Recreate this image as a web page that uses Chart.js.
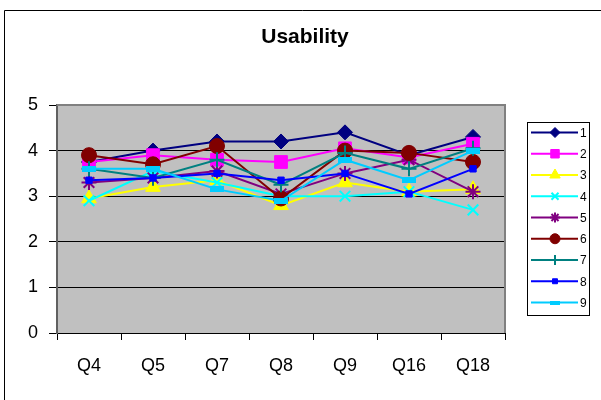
<!DOCTYPE html>
<html>
<head>
<meta charset="utf-8">
<script src="https://cdn.jsdelivr.net/npm/chart.js@4/dist/chart.umd.min.js"></script>
<style>
    html, body { margin: 0; padding: 0; background: #ffffff; }
    #wrap { width: 601px; height: 400px; }
</style>
</head>
<body>
<div id="wrap"><canvas id="usabilityChart" width="601" height="400"></canvas></div>
<script>
const questions = ['Q4', 'Q5', 'Q7', 'Q8', 'Q9', 'Q16', 'Q18']
const seriesNames = ['1', '2', '3', '4', '5', '6', '7', '8', '9']

const series1 = [3.75, 4.0, 4.2, 4.2, 4.4, 3.9, 4.3]
const series2 = [3.75, 3.9, 3.8, 3.75, 4.05, 3.85, 4.15]
const series3 = [2.95, 3.2, 3.35, 2.8, 3.3, 3.1, 3.15]
const series4 = [2.9, 3.55, 3.3, 3.0, 3.0, 3.1, 2.7]
const series5 = [3.3, 3.4, 3.55, 3.05, 3.5, 3.8, 3.1]
const series6 = [3.9, 3.7, 4.1, 2.95, 4.0, 3.95, 3.75]
const series7 = [3.6, 3.4, 3.8, 3.25, 3.95, 3.6, 4.05]
const series8 = [3.35, 3.4, 3.5, 3.35, 3.5, 3.05, 3.6]
const series9 = [3.6, 3.6, 3.15, 2.9, 3.8, 3.35, 4.0]

const yTickValues = [0, 1, 2, 3, 4, 5]

const seriesValues = [series1, series2, series3, series4, series5, series6, series7, series8, series9]
const seriesColors = ['#000080', '#FF00FF', '#FFFF00', '#00FFFF', '#800080', '#800000', '#008080', '#0000FF', '#00CCFF']

const FONT_FAMILY = "Arial, 'Liberation Sans', sans-serif"

// flat wide box used by series 9
function flatBox(color, w, h) {
    const c = document.createElement('canvas')
    c.width = w
    c.height = h
    const cx = c.getContext('2d')
    cx.fillStyle = color
    cx.fillRect(0, 0, w, h)
    return c
}

const markerStyles = ['rectRot', 'rect', 'triangle', 'crossRot', 'star', 'circle', 'cross', 'rect', flatBox('#00CCFF', 14, 6)]
const markerRadii = [7.5, 9, 8.5, 7.5, 7.5, 7.5, 7.5, 4.5, 7]
const markerBorders = [1, 1, 1, 2, 2, 1, 2, 1, 1]

const legendStyles = ['rectRot', 'rect', 'triangle', 'crossRot', 'star', 'circle', 'cross', 'rect', flatBox('#00CCFF', 10, 4)]
const legendRadii = [5, 6, 6, 5, 5, 5, 5, 3.5, 5]

const datasets = seriesValues.map((values, i) => ({
    label: seriesNames[i],
    data: values,
    borderColor: seriesColors[i],
    backgroundColor: seriesColors[i],
    pointBorderColor: seriesColors[i],
    pointBackgroundColor: seriesColors[i],
    borderWidth: 2,
    pointStyle: markerStyles[i],
    pointRadius: markerRadii[i],
    pointHoverRadius: markerRadii[i],
    pointBorderWidth: markerBorders[i],
    tension: 0,
    order: seriesValues.length - i
}))

// background, outer frame, plot area and title
const framePlugin = {
    id: 'framePlugin',
    beforeDraw(chart) {
        const ctx = chart.ctx
        const area = chart.chartArea
        ctx.save()
        ctx.fillStyle = '#ffffff'
        ctx.fillRect(0, 0, chart.width, chart.height)

        ctx.strokeStyle = '#000000'
        ctx.lineWidth = 1
        ctx.beginPath()
        ctx.moveTo(4.5, chart.height)
        ctx.lineTo(4.5, 10.5)
        ctx.lineTo(chart.width, 10.5)
        ctx.stroke()

        ctx.fillStyle = '#C0C0C0'
        ctx.fillRect(area.left, area.top, area.right - area.left, area.bottom - area.top)

        ctx.fillStyle = '#000000'
        ctx.font = 'bold 21px ' + FONT_FAMILY
        ctx.textAlign = 'center'
        ctx.textBaseline = 'middle'
        ctx.fillText('Usability', 305, 37)
        ctx.restore()
    },
    beforeDatasetsDraw(chart) {
        const ctx = chart.ctx
        const area = chart.chartArea
        ctx.save()
        ctx.strokeStyle = '#808080'
        ctx.lineWidth = 2
        ctx.beginPath()
        ctx.moveTo(area.left, area.top)
        ctx.lineTo(area.right, area.top)
        ctx.lineTo(area.right, area.bottom)
        ctx.stroke()
        ctx.restore()
    }
}

// legend box drawn on the right like the original
const boxLegendPlugin = {
    id: 'boxLegendPlugin',
    afterDraw(chart) {
        const ctx = chart.ctx
        const left = 527.5, top = 122.5, right = 589.5, bottom = 315.5
        const firstRow = 132.5, rowStep = 21.25
        ctx.save()
        ctx.fillStyle = '#ffffff'
        ctx.fillRect(left, top, right - left, bottom - top)
        ctx.strokeStyle = '#000000'
        ctx.lineWidth = 1
        ctx.strokeRect(left, top, right - left, bottom - top)

        chart.data.datasets.forEach((dataset, i) => {
            const y = firstRow + i * rowStep
            ctx.strokeStyle = dataset.borderColor
            ctx.lineWidth = 2
            ctx.beginPath()
            ctx.moveTo(531, y)
            ctx.lineTo(578, y)
            ctx.stroke()

            ctx.fillStyle = dataset.borderColor
            ctx.strokeStyle = dataset.borderColor
            ctx.lineWidth = markerBorders[i]
            Chart.helpers.drawPoint(ctx, {
                pointStyle: legendStyles[i],
                radius: legendRadii[i],
                borderWidth: markerBorders[i],
                rotation: 0
            }, 555, y)

            ctx.fillStyle = '#000000'
            ctx.font = '12px ' + FONT_FAMILY
            ctx.textAlign = 'left'
            ctx.textBaseline = 'middle'
            ctx.fillText(dataset.label, 580, y + 1)
        })
        ctx.restore()
    }
}

const usabilityChart = new Chart(document.getElementById('usabilityChart').getContext('2d'), {
    type: 'line',
    data: {
        labels: questions,
        datasets: datasets
    },
    options: {
        responsive: false,
        animation: false,
        devicePixelRatio: 1,
        layout: {
            padding: { top: 105, right: 96, bottom: 0, left: 0 }
        },
        plugins: {
            legend: { display: false },
            title: { display: false },
            tooltip: { enabled: false }
        },
        scales: {
            x: {
                type: 'category',
                offset: true,
                grid: {
                    offset: true,
                    drawOnChartArea: false,
                    drawTicks: true,
                    tickLength: 7,
                    color: '#000000'
                },
                border: { color: '#000000', width: 1 },
                ticks: {
                    color: '#000000',
                    font: { family: FONT_FAMILY, size: 18 },
                    padding: 15,
                    maxRotation: 0,
                    autoSkip: false
                },
                afterFit(scale) { scale.height = 67 }
            },
            y: {
                min: 0,
                max: 5,
                afterBuildTicks(scale) {
                    scale.ticks = yTickValues.map(v => ({ value: v }))
                },
                grid: {
                    color: '#000000',
                    tickLength: 8
                },
                border: { color: '#606060', width: 2 },
                ticks: {
                    color: '#000000',
                    font: { family: FONT_FAMILY, size: 18 },
                    padding: 11
                },
                afterFit(scale) { scale.width = 57 }
            }
        }
    },
    plugins: [framePlugin, boxLegendPlugin]
})
</script>
</body>
</html>
